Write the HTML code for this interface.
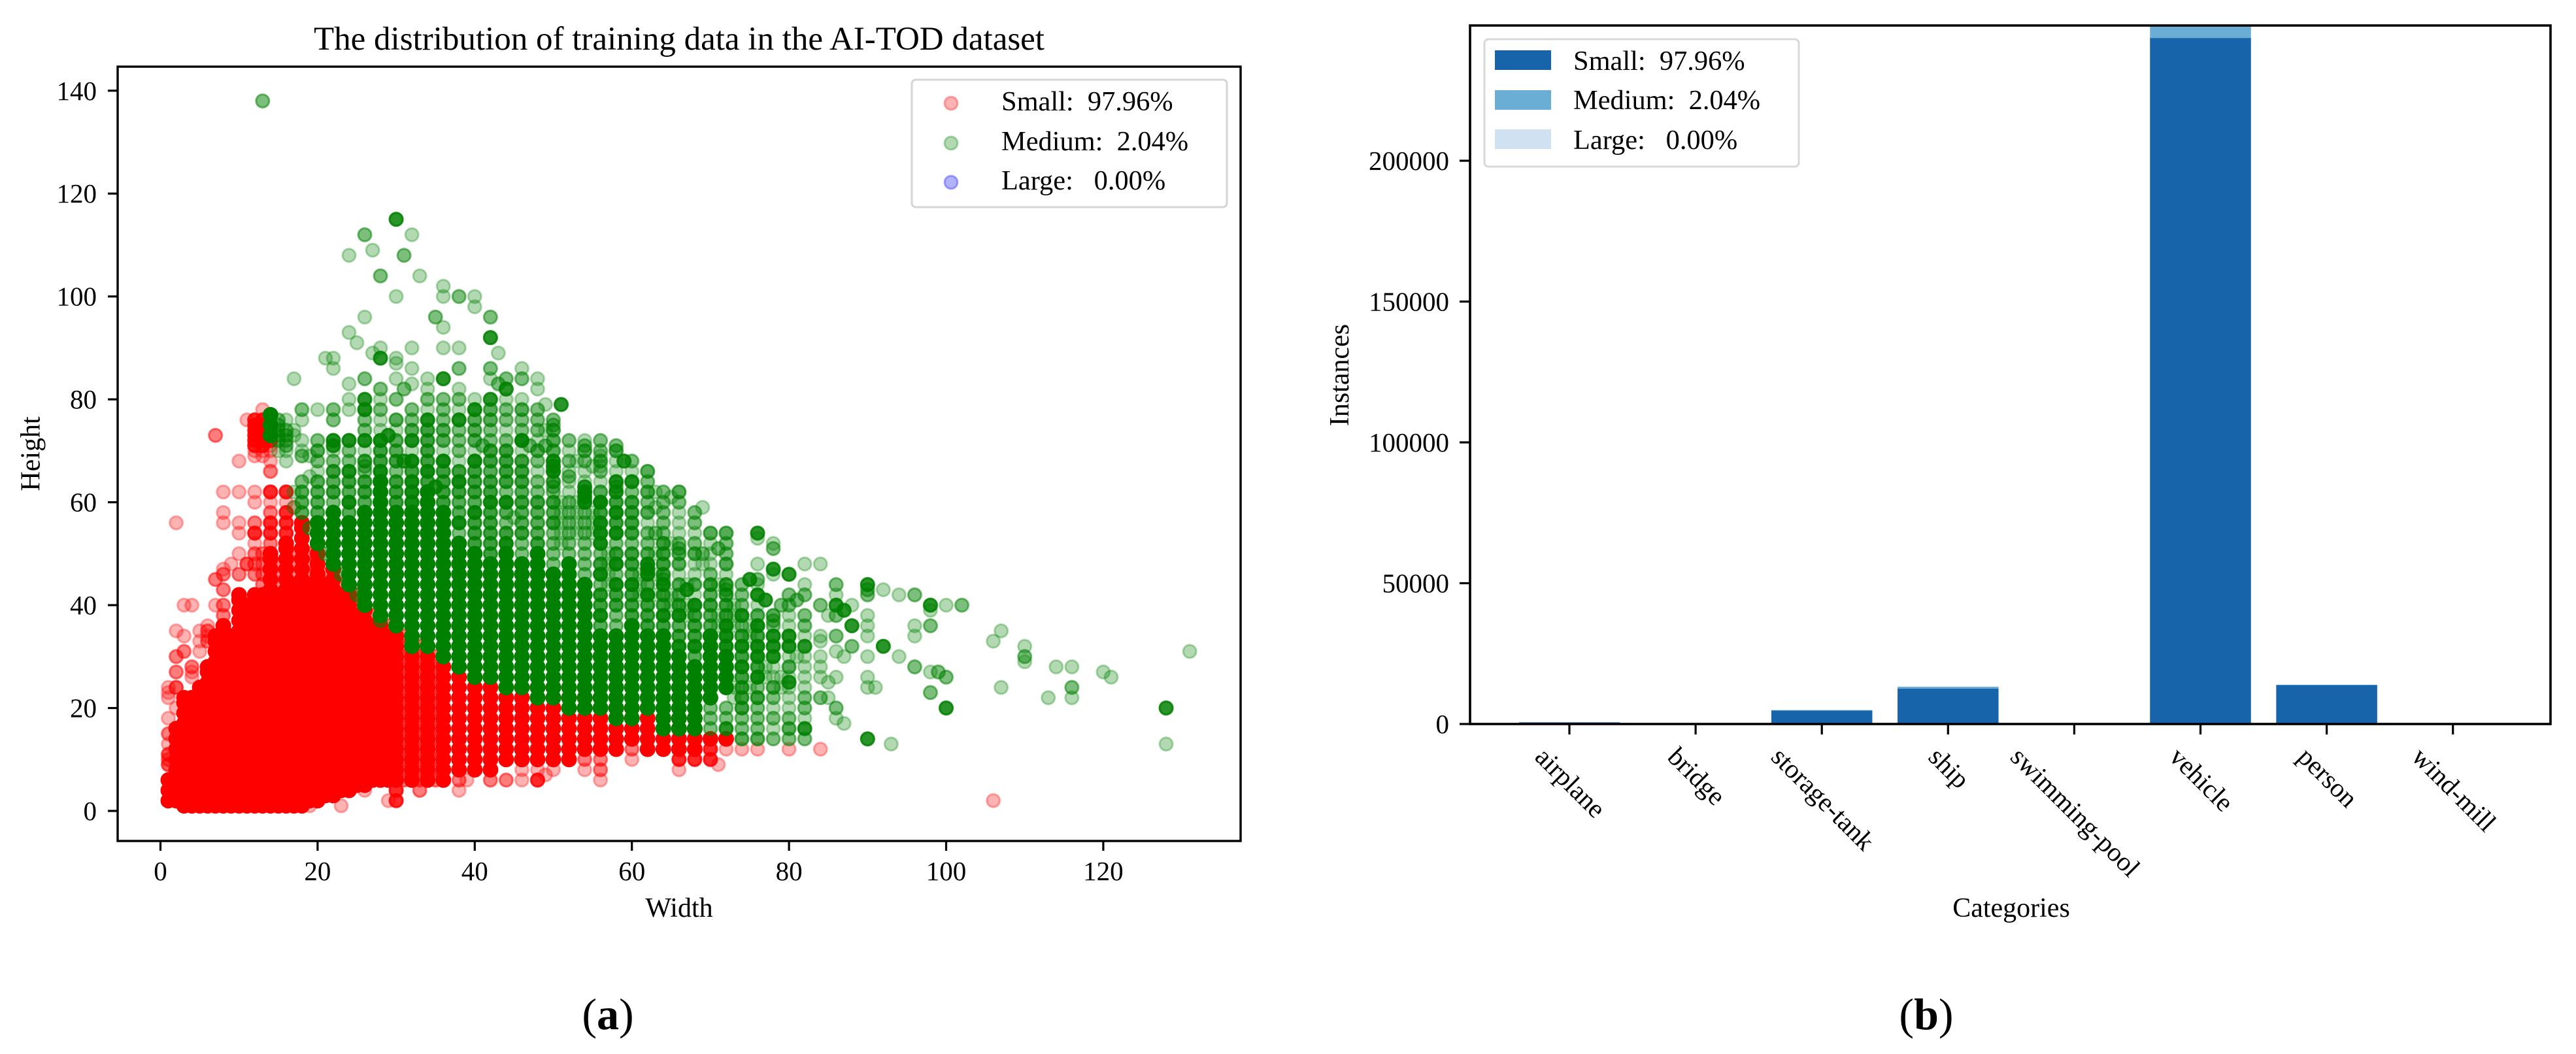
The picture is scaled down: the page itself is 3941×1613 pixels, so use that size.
<!DOCTYPE html>
<html lang="en">
<head>
<meta charset="utf-8">
<title>The distribution of training data in the AI-TOD dataset</title>
<style>
html,body{margin:0;padding:0;background:#fff;}
svg{display:block;}
text{font-family:"Liberation Serif",serif;fill:#000;white-space:pre;}
</style>
</head>
<body>
<svg id="figure" xmlns="http://www.w3.org/2000/svg" width="3941" height="1613" viewBox="0 0 3941 1613">
  <rect x="0" y="0" width="3941" height="1613" fill="#fff"/>
  <defs>
    <clipPath id="scatter-clip"><rect x="180" y="102" width="1718" height="1185"/></clipPath>
    <clipPath id="bars-clip"><rect x="2249" y="39" width="1653" height="1069"/></clipPath>
  </defs>

  <g id="scatter-panel">
    <text x="1039" y="76" font-size="51" text-anchor="middle">The distribution of training data in the AI-TOD dataset</text>
    <g id="scatter-marks" clip-path="url(#scatter-clip)"></g>
    <rect x="180" y="102" width="1718" height="1185" fill="none" stroke="#000" stroke-width="3.4"/>
    <g id="scatter-ticks"></g>
    <text x="1039" y="1403" font-size="42" text-anchor="middle">Width</text>
    <text transform="translate(60.5,694.5) rotate(-90)" font-size="42" text-anchor="middle">Height</text>
    <g>
      <rect x="1395" y="122" width="482" height="195" rx="6" ry="6" fill="#fff" fill-opacity="0.8" stroke="#d5d5d5" stroke-width="3"/>
      <g>
        <circle cx="1455" cy="158" r="10" fill="#f00" fill-opacity="0.3" stroke="#f00" stroke-opacity="0.3" stroke-width="3"/>
        <text x="1532" y="169" font-size="42.4">Small:  97.96%</text>
      </g>
      <g>
        <circle cx="1455" cy="219" r="10" fill="#008000" fill-opacity="0.3" stroke="#008000" stroke-opacity="0.3" stroke-width="3"/>
        <text x="1532" y="230" font-size="42.4">Medium:  2.04%</text>
      </g>
      <g>
        <circle cx="1455" cy="279" r="10" fill="#00f" fill-opacity="0.3" stroke="#00f" stroke-opacity="0.3" stroke-width="3"/>
        <text x="1532" y="290" font-size="42.4">Large:   0.00%</text>
      </g>
    </g>
    <text x="930" y="1575" font-size="68" text-anchor="middle">(<tspan font-weight="bold">a</tspan>)</text>
  </g>

  <g id="bar-panel">
    <g id="bar-marks" clip-path="url(#bars-clip)"></g>
    <rect x="2249" y="39" width="1653" height="1069" fill="none" stroke="#000" stroke-width="3.6"/>
    <g id="bar-ticks"></g>
    <text x="3077" y="1403" font-size="42" text-anchor="middle">Categories</text>
    <text transform="translate(2063,574) rotate(-90)" font-size="42" text-anchor="middle">Instances</text>
    <g>
      <rect x="2271" y="60" width="481" height="195" rx="6" ry="6" fill="#fff" fill-opacity="0.8" stroke="#d8d8d8" stroke-width="3"/>
      <g>
        <rect x="2287" y="77" width="86" height="30" fill="#1764ab"/>
        <text x="2407" y="107" font-size="42.4">Small:  97.96%</text>
      </g>
      <g>
        <rect x="2287" y="138" width="86" height="30" fill="#6aaed6"/>
        <text x="2407" y="167" font-size="42.4">Medium:  2.04%</text>
      </g>
      <g>
        <rect x="2287" y="198" width="86" height="30" fill="#d0e1f2"/>
        <text x="2407" y="228" font-size="42.4">Large:   0.00%</text>
      </g>
    </g>
    <text x="2947" y="1575" font-size="68" text-anchor="middle">(<tspan font-weight="bold">b</tspan>)</text>
  </g>
</svg>

<script>
// ---------- scatter chart data (width, height in pixels of the dataset) ----------
const xTickValues = [0, 20, 40, 60, 80, 100, 120];
const yTickValues = [0, 20, 40, 60, 80, 100, 120, 140];

// Solid (heavily overplotted) columns: width, lowest height, highest height
const smallDenseWidths = [1,2,3,4,5,6,7,8,9,10,11,12,13,14,15,16,17,18,19,20,21,22,23,24,25,26,27,28,29,30,32,34,36,38,40,42,44,46,48,50,52,54,56,58,60,62,64,66,68,70,72];
const smallDenseLow    = [2,2,1,1,1,1,1,1,1,1,1,1,1,1,1,1,1,1,2,2,3,3,4,4,5,5,6,6,6,6,6,6,6,8,8,8,10,10,10,10,10,12,12,12,14,12,12,12,12,14,14];
const smallDenseHigh   = [6,16,22,22,24,28,34,36,34,42,40,42,42,50,42,52,44,56,44,52,44,48,42,44,38,40,36,38,34,36,34,32,30,28,28,26,26,24,24,24,22,22,22,20,20,20,18,18,18,14,14];

// Odd-width columns between the solid ones, where overlap is lighter
const smallOddWidths = [15,17,19,21,23,25,27,29,31,33,35];
const smallOddLow    = [40,42,42,42,40,36,34,32,6,6,6];
const smallOddHigh   = [48,50,50,46,44,42,38,36,34,32,30];

const mediumDenseWidths = [14,20,22,24,26,28,30,32,34,36,38,40,42,44,46,48,50,52,54,56,58,60,62,64,66,68,70,72];
const mediumDenseLow    = [73,52,48,44,40,38,36,32,32,30,28,26,26,24,24,22,22,20,20,20,18,18,20,16,16,16,22,24];
const mediumDenseHigh   = [77,56,58,56,58,64,58,58,62,58,52,50,48,50,48,50,46,48,44,34,34,36,34,34,30,28,34,30];

// Lattice bands above the solid part: single-point columns
const mediumPaleBandWidths = [18,20,22,24,26,28,30,32,34,36,38,40,42,44,46,48,50,52,54,56,58,60,62,64,66,68,70,72,74,76,78,80];
const mediumPaleBandLow    = [58,58,58,56,58,64,58,58,62,58,52,50,48,50,48,50,46,48,44,34,34,36,34,34,30,28,34,30,14,14,14,14];
const mediumPaleBandHigh   = [64,72,72,72,78,78,76,78,78,78,76,78,78,78,78,78,76,72,72,72,70,68,66,62,62,58,54,54,44,44,38,34];

// Lattice bands above the solid part: columns with several overlapping points
const mediumMidBandWidths = [22,24,26,28,30,32,34,36,38,40,42,44,46,48,50,52,54,56,58,60,62,64,66,68,70,72,74,76];
const mediumMidBandLow    = [58,56,58,64,58,58,62,58,52,50,48,50,48,50,46,48,44,34,34,36,34,34,30,28,34,30,20,22];
const mediumMidBandHigh   = [66,64,68,72,70,68,74,68,66,68,70,70,68,62,66,60,62,60,60,60,50,52,44,40,44,44,34,36];

// Individually visible points, grouped by width: [width, [heights]]
const smallPale = [
  [1,[24,23,22,18,13,11,9]],[2,[56,35,24,20]],[3,[40,34,1]],[4,[40,27,26,1]],[5,[35,33,31,1]],[6,[36,34,1]],[7,[40,1]],
  [8,[62,58,56,47,1]],[9,[48,1]],[10,[68,62,56,54,50,1]],[11,[76,48,1]],[12,[70,69,62,60,52,1]],[13,[78,70,69,1]],[14,[71,70,68,60,1]],
  [15,[1]],[16,[60,1]],[17,[59]],[19,[1]],[23,[1]],[26,[5,4]],[29,[2]],[38,[4]],[39,[6]],[46,[8,6]],[48,[8]],[49,[7]],[50,[8]],
  [54,[8]],[56,[6]],[60,[10]],[66,[8]],[71,[9]],[72,[12]],[74,[12]],[76,[12]],[80,[12]],[84,[12]],[106,[2]]
];
const smallMid = [
  [1,[15,11,10,9]],[2,[30,27,24]],[3,[31]],[4,[28]],[6,[35,33]],[7,[73,45]],[8,[46,43,40,38]],[10,[46]],[11,[48]],
  [12,[56,50,48,46]],[13,[50,48,46,44]],[14,[66,58,52]],[33,[4]],[34,[6]],[36,[6]],[38,[6]],[42,[6]],[44,[6]],[56,[10,8]],[54,[10]],[60,[12]]
];
const smallDark = [
  [12,[76,75,74,73,72,71,54]],[13,[76,75,74,73,72,71]],[14,[62,56,54,72]],[16,[62,58,56,54]],[30,[4,2]],[48,[6]],
  [66,[10]],[68,[10]],[70,[12,10]]
];

const mediumPale = [
  [15,[70]],[16,[76,70,68]],[17,[84,74,73,62,59]],[18,[76,72,70,64]],[19,[69,65]],[20,[78,72,68]],[21,[88]],[22,[88,86,68,64]],
  [24,[108,93,83,80,78,70,68,62,58]],[25,[91]],[26,[96,76,74,60]],[27,[109,89]],[28,[90,80,78]],[30,[100,88,87,84,70]],
  [32,[112,90,86,83,78,76]],[33,[104]],[34,[84,82]],[36,[102,100,94,90,78,76]],[38,[90,82,78,74,72,70,60,58]],[40,[100,98,80,60]],
  [42,[84,74,72,66]],[43,[89]],[44,[80,78,76,72,58]],[45,[57]],[46,[86,80,76,74,62,58,56]],[48,[84,82,78,76,74,68,64,58,56,54]],
  [49,[79,74]],[50,[76,58]],[51,[60,58,56,54,52]],[52,[72,68]],[53,[68,60,58,56,54]],[54,[68]],[55,[67,58,56,54]],[56,[72,70,69,67,66,42,36]],
  [57,[50,48,46,44]],[60,[68,62,46]],[61,[46,44,42]],[62,[64,60,54,52,50,44]],[63,[62,59,50,46,42]],[64,[62,60,58,56,54]],[65,[61,52,42,40]],
  [66,[60,52,44,42,36]],[67,[44,40,38]],[68,[58,56,52,30]],[69,[59,48]],[70,[46,42,38,36]],[71,[44,38,36]],[72,[52,50]],[73,[40,38,36,24,22]],
  [74,[44,42,40,36,18,16]],[75,[36,34,24]],[76,[53,48,20,18,16]],[77,[28,26]],[78,[52,46,36,22,18,14]],[79,[26,24]],[80,[38,36,18,14]],
  [81,[30]],[82,[48,44,34,30,28,26,24,18]],[84,[48,34,33,30,28,26]],[85,[38,25,22]],[86,[42,31,26,18]],[87,[30,17]],[88,[40]],
  [90,[38,36,34,30,26,24]],[91,[24]],[92,[43]],[93,[13]],[94,[42,30]],[96,[36,34]],[98,[39,27]],[100,[40]],[106,[33]],[107,[35,24]],
  [110,[32,29]],[113,[22]],[114,[28]],[116,[28,22]],[120,[27]],[121,[26]],[128,[13]],[131,[31]]
];
const mediumMid = [
  [13,[138]],[15,[76,75,74,73,72]],[16,[74,73,72,71]],[18,[78,69,62,60,58]],[19,[55]],[20,[70,64,62,60,58]],[21,[50]],[22,[78,76,66,62]],
  [23,[46]],[24,[64]],[25,[42]],[26,[112,84,68,67,64,62,56,40]],[28,[104,82,70,68,37]],[30,[80,76,72,68,64,62,60,36]],[31,[108,82]],
  [32,[74,66,33]],[34,[80,74,72,70,68,64,62]],[35,[96]],[36,[80,74,72,66,64,62,60,52]],[38,[100,86,80,66,62]],[40,[76,74,72,66,64,62,56,54,52]],
  [41,[71]],[42,[96,86,78,76,70,68,64,62,58,56,54,52,50]],[43,[83]],[44,[84,70,68,66,64,54]],[46,[84,78,72,68,66,64,60,54]],[47,[71]],
  [48,[70,60,52]],[49,[71]],[50,[75,74,72,70,64,63,60,56]],[52,[65]],[54,[71,70]],[56,[68,62,60,58,48,42,40]],[58,[71,70,63,60,56,50,42,40]],
  [60,[60,58,56,54,50,48,42,40,38]],[62,[66,62,58,40,38,36]],[63,[54]],[64,[52,50,48,46,45,42,40,36]],[66,[62,51,50,48,40,34]],[68,[50,44,38,36,34,28]],
  [69,[50]],[70,[54,44,40,20,18,16]],[71,[51]],[72,[54,48,44,43,42,40,38,20,18]],[74,[34,30,26,24,22,20,14]],[76,[45,38,34,28,22,14]],
  [78,[51,38,37,24]],[79,[40]],[80,[42,40,28,16]],[81,[41]],[82,[42,38,36,22,20,14]],[84,[40,22]],[86,[44,38,34,20]],[88,[32]],[90,[43,42]],
  [96,[42,28]],[98,[36,23]],[99,[27]],[100,[26]],[102,[40]],[110,[30]],[116,[24]]
];
const mediumDark = [
  [22,[72,71]],[24,[72,66,60]],[26,[80,78,72,58]],[28,[88,72,66]],[29,[73]],[30,[115]],[31,[68]],[32,[72,68,64,62,60]],[34,[76,66,60]],
  [35,[63]],[36,[84,68,58,56,54]],[38,[76,64,56,52]],[40,[78,68,58]],[42,[92,80,60]],[44,[82,60,52]],[46,[72]],[50,[68,67,66]],[51,[79]],
  [54,[63,62,61,60]],[56,[60,56,54,52,46,38]],[58,[64,62,58,54,48,44]],[59,[68]],[60,[64,44,36]],[62,[48,47,46,42]],[64,[44,38]],[66,[38,32]],
  [67,[43]],[68,[40,32]],[70,[32,30]],[72,[36,34,32,28,26,16]],[74,[38,32,28]],[75,[45]],[76,[54,42,36,32,30,26]],[77,[41]],[78,[47,34,32,30]],
  [80,[46,34,32,25]],[82,[32,16]],[86,[40]],[87,[39]],[88,[36]],[90,[44,14]],[92,[32]],[98,[40]],[100,[20]],[128,[20]]
];

// ---------- bar chart data ----------
const categories = ['airplane','bridge','storage-tank','ship','swimming-pool','vehicle','person','wind-mill'];
const smallCounts  = [550, 120, 4800, 12600, 100, 243600, 13800, 100];
const mediumCounts = [120, 20, 150, 650, 10, 5400, 150, 10];
const largeCounts  = [0, 0, 0, 0, 0, 0, 0, 0];
const barYTicks = [0, 50000, 100000, 150000, 200000];

// ---------- axis functions ----------
const sx = v => 245.5 + 12.02 * v;
const sy = v => 1241 - 7.873 * v;
const bx = i => 2401 + 193.1 * i;
const by = v => 1108 - 0.00431 * v;
const BAR_WIDTH = 154.5;

const NS = 'http://www.w3.org/2000/svg';
const marks = document.getElementById('scatter-marks');
const scatterTicks = document.getElementById('scatter-ticks');
const barMarks = document.getElementById('bar-marks');
const barTicks = document.getElementById('bar-ticks');

function node(tag, attrs, parent) {
  const el = document.createElementNS(NS, tag);
  for (const k in attrs) el.setAttribute(k, attrs[k]);
  parent.appendChild(el);
  return el;
}
function softPoint(w, h, color) {
  return node('circle', {cx: sx(w), cy: sy(h), r: 10, fill: color, 'fill-opacity': 0.3, stroke: color, 'stroke-opacity': 0.3, 'stroke-width': 3}, marks);
}
function solidPoint(w, h, color) {
  return node('circle', {cx: sx(w), cy: sy(h), r: 12, fill: color}, marks);
}
function drawDense(widths, low, high, color, name) {
  widths.forEach((w, i) => {
    const hs = [];
    for (let h = low[i]; h < high[i]; h += 2) hs.push(h);
    hs.push(high[i]);
    hs.forEach(h => {
      const el = solidPoint(w, h, color);
      
      
    });
  });
}
function drawBand(widths, low, high, repeats, color, name) {
  widths.forEach((w, i) => {
    for (let h = low[i]; h <= high[i]; h += 2) {
      for (let k = 0; k < repeats; k++) {
        const el = softPoint(w, h, color);
        
        
      }
    }
  });
}
function drawLayer(list, repeats, color, name) {
  list.forEach(([w, heights]) => heights.forEach(h => {
    for (let k = 0; k < repeats; k++) {
      const el = softPoint(w, h, color);
      
      
    }
  }));
}

// ---------- draw scatter ----------
drawLayer(smallPale, 1, '#f00', 'small-point');
drawLayer(smallMid, 2, '#f00', 'small-point');
drawLayer(smallDark, 5, '#f00', 'small-point');
drawBand(smallOddWidths, smallOddLow, smallOddHigh, 2, '#f00', 'small-point');
drawDense(smallDenseWidths, smallDenseLow, smallDenseHigh, '#f00', 'small-point');
drawBand(mediumPaleBandWidths, mediumPaleBandLow, mediumPaleBandHigh, 1, '#008000', 'medium-point');
drawBand(mediumMidBandWidths, mediumMidBandLow, mediumMidBandHigh, 1, '#008000', 'medium-point');
drawLayer(mediumPale, 1, '#008000', 'medium-point');
drawLayer(mediumMid, 2, '#008000', 'medium-point');
drawLayer(mediumDark, 5, '#008000', 'medium-point');
drawDense(mediumDenseWidths, mediumDenseLow, mediumDenseHigh, '#008000', 'medium-point');

xTickValues.forEach(v => {
  const t = node('line', {x1: sx(v), x2: sx(v), y1: 1287, y2: 1302, stroke: '#000', 'stroke-width': 3.2}, scatterTicks);
  
  
  const l = node('text', {x: sx(v), y: 1347, 'font-size': 41, 'text-anchor': 'middle'}, scatterTicks);
  l.textContent = String(v);
  
  
});
yTickValues.forEach(v => {
  const t = node('line', {x1: 165, x2: 180, y1: sy(v), y2: sy(v), stroke: '#000', 'stroke-width': 3.2}, scatterTicks);
  
  
  const l = node('text', {x: 148, y: sy(v) + 14, 'font-size': 41, 'text-anchor': 'end'}, scatterTicks);
  l.textContent = String(v);
  
  
});

// ---------- draw bars ----------
categories.forEach((c, i) => {
  const s = node('rect', {x: bx(i) - BAR_WIDTH / 2, width: BAR_WIDTH, y: by(smallCounts[i]), height: by(0) - by(smallCounts[i]), fill: '#1764ab'}, barMarks);
  
  
  const m = node('rect', {x: bx(i) - BAR_WIDTH / 2, width: BAR_WIDTH, y: by(smallCounts[i] + mediumCounts[i]), height: by(smallCounts[i]) - by(smallCounts[i] + mediumCounts[i]), fill: '#6aaed6'}, barMarks);
  
  
  const total = smallCounts[i] + mediumCounts[i];
  const g = node('rect', {x: bx(i) - BAR_WIDTH / 2, width: BAR_WIDTH, y: by(total + largeCounts[i]), height: by(total) - by(total + largeCounts[i]), fill: '#d0e1f2'}, barMarks);
  
  

  const t = node('line', {x1: bx(i), x2: bx(i), y1: 1108, y2: 1124, stroke: '#000', 'stroke-width': 3.2}, barTicks);
  
  
  const l = node('text', {'font-size': 41, 'text-anchor': 'middle', 'dominant-baseline': 'central'}, barTicks);
  l.textContent = c;
  
  
  const len = l.getComputedTextLength();
  const cy = 1143 + (len + 22) * 0.3535;
  l.setAttribute('transform', 'translate(' + (bx(i) + 2) + ',' + cy + ') rotate(45)');
});
barYTicks.forEach(v => {
  const t = node('line', {x1: 2233, x2: 2249, y1: by(v), y2: by(v), stroke: '#000', 'stroke-width': 3.2}, barTicks);
  
  
  const l = node('text', {x: 2217, y: by(v) + 14, 'font-size': 41, 'text-anchor': 'end'}, barTicks);
  l.textContent = String(v);
  
  
});
</script>
</body>
</html>
